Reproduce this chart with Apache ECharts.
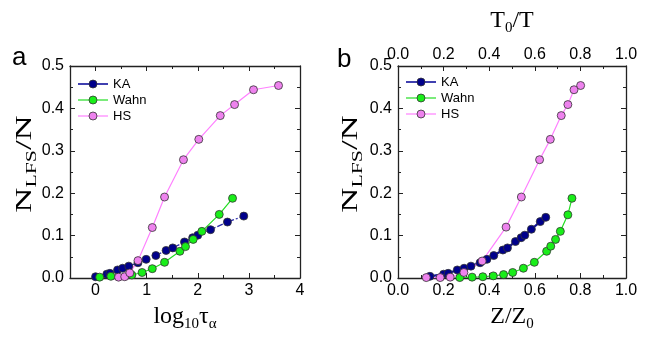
<!DOCTYPE html>
<html><head><meta charset="utf-8">
<script src="https://cdn.jsdelivr.net/npm/echarts@6/dist/echarts.min.js"></script>
<style>html,body{margin:0;padding:0;background:#fff}#c{width:653px;height:338px}</style>
</head><body><div id="c"></div>
<script>
// ---- data (panel a: log10 tau_alpha) ----
const kaTauX = [0.00,0.22,0.28,0.43,0.53,0.65,0.83,0.99,1.18,1.38,1.51,1.74,1.90,2.00,2.25,2.58,2.90];
const kaTauY = [0.003,0.009,0.011,0.019,0.023,0.028,0.036,0.044,0.053,0.065,0.071,0.085,0.095,0.101,0.114,0.132,0.146];
const wahnTauX = [0.08,0.30,0.71,0.91,1.11,1.35,1.65,1.76,1.91,2.08,2.42,2.68];
const wahnTauY = [0.002,0.004,0.007,0.013,0.022,0.037,0.063,0.074,0.091,0.110,0.150,0.188];
const hsTauX = [0.45,0.57,0.67,0.83,1.11,1.35,1.72,2.02,2.44,2.72,3.09,3.58];
const hsTauY = [0.002,0.003,0.012,0.041,0.119,0.191,0.279,0.327,0.383,0.409,0.444,0.454];
// ---- data (panel b: Z/Z0) ----
const kaZX = [0.14,0.20,0.22,0.26,0.29,0.32,0.36,0.39,0.42,0.46,0.48,0.515,0.54,0.556,0.585,0.624,0.648];
const kaZY = [0.004,0.009,0.011,0.019,0.023,0.028,0.036,0.044,0.053,0.066,0.071,0.086,0.095,0.101,0.115,0.133,0.143];
const wahnZX = [0.271,0.325,0.372,0.418,0.463,0.503,0.550,0.598,0.652,0.670,0.691,0.712,0.745,0.763];
const wahnZY = [0.001,0.002,0.003,0.005,0.008,0.013,0.023,0.037,0.063,0.075,0.091,0.110,0.149,0.188];
const hsZX = [0.124,0.185,0.229,0.289,0.369,0.474,0.541,0.621,0.668,0.716,0.745,0.772,0.801];
const hsZY = [0.001,0.001,0.002,0.013,0.040,0.120,0.191,0.279,0.327,0.383,0.409,0.444,0.454];
// ---- ticks ----
const tauTicks = [0,1,2,3,4];
const tauMinorTicks = [0.5,1.5,2.5,3.5];
const seriesNames = ['KA','Wahn','HS'];

const zip = (xs, ys) => xs.map((x, i) => [x, ys[i]]);
const AX = '#222';
const serif = 'Liberation Serif';
const sans = 'Liberation Sans';
const tickFont = {fontFamily: sans, fontSize: 16, color: '#000'};
const richName = {
  m: {fontFamily: serif, fontSize: 24, color: '#000', lineHeight: 30, verticalAlign: 'middle'},
  s: {fontFamily: serif, fontSize: 15, color: '#000', lineHeight: 10, verticalAlign: 'bottom'}
};
const baseLine = {show: true, onZero: false, lineStyle: {color: AX, width: 1.3}};
const noLine = {show: false, onZero: false};

const xAxes = [
  {gridIndex: 0, type: 'value', min: -0.5, max: 4, position: 'bottom',
   axisLine: baseLine, splitLine: {show: false},
   axisTick: {show: true, inside: true, length: 5, customValues: tauTicks, lineStyle: {color: AX}},
   axisLabel: {customValues: tauTicks, margin: 5, ...tickFont},
   name: '{m|log}{s|10}{m|τ}{s|α}', nameLocation: 'middle', nameGap: 24,
   nameTextStyle: {rich: richName}},
  {gridIndex: 0, type: 'value', min: -0.5, max: 4, position: 'bottom', offset: 0,
   axisLine: noLine, splitLine: {show: false},
   axisTick: {show: true, inside: true, length: 3, customValues: tauMinorTicks, lineStyle: {color: AX}},
   axisLabel: {show: false}},
  {gridIndex: 0, type: 'value', min: -0.5, max: 4, position: 'top',
   axisLine: baseLine, splitLine: {show: false},
   axisTick: {show: true, inside: true, length: 5, customValues: tauTicks, lineStyle: {color: AX}},
   axisLabel: {show: false}},
  {gridIndex: 0, type: 'value', min: -0.5, max: 4, position: 'top', offset: 0,
   axisLine: noLine, splitLine: {show: false},
   axisTick: {show: true, inside: true, length: 3, customValues: tauMinorTicks, lineStyle: {color: AX}},
   axisLabel: {show: false}},
  {gridIndex: 1, type: 'value', min: 0, max: 1, interval: 0.2, position: 'bottom',
   axisLine: baseLine, splitLine: {show: false},
   axisTick: {show: true, inside: true, length: 5, lineStyle: {color: AX}},
   minorTick: {show: true, splitNumber: 2, length: 3, lineStyle: {color: AX}},
   axisLabel: {margin: 5, formatter: v => v.toFixed(1), ...tickFont},
   name: '{m|Z/Z}{s|0}', nameLocation: 'middle', nameGap: 24,
   nameTextStyle: {rich: richName}},
  {gridIndex: 1, type: 'value', min: 0, max: 1, interval: 0.2, position: 'top',
   axisLine: baseLine, splitLine: {show: false},
   axisTick: {show: true, inside: true, length: 5, lineStyle: {color: AX}},
   minorTick: {show: true, splitNumber: 2, length: 3, lineStyle: {color: AX}},
   axisLabel: {margin: 3, formatter: v => v.toFixed(1), ...tickFont},
   name: '{m|T}{s|0}{m|/T}', nameLocation: 'middle', nameGap: 30,
   nameTextStyle: {rich: richName}}
];

function yAx(grid, pos, labels) {
  return {gridIndex: grid, type: 'value', min: 0, max: 0.5, interval: 0.1, position: pos,
    axisLine: baseLine, splitLine: {show: false},
    axisTick: {show: true, inside: true, length: 5, lineStyle: {color: AX}},
    minorTick: {show: true, splitNumber: 2, length: 3, lineStyle: {color: AX}},
    axisLabel: labels ? {margin: 6, formatter: v => v.toFixed(1), ...tickFont} : {show: false}};
}
const yAxes = [yAx(0, 'left', true), yAx(0, 'right', false), yAx(1, 'left', true), yAx(1, 'right', false)];

const mk = (name, data, xi, yi, fill, line, width, type) => ({
  name, type: 'line', data, xAxisIndex: xi, yAxisIndex: yi,
  symbol: 'circle', symbolSize: 8,
  itemStyle: {color: fill, borderColor: '#333', borderWidth: 0.8},
  lineStyle: {color: line, width, type},
  emphasis: {disabled: true}
});
const KA_FILL = '#00008b', WAHN_FILL = '#19ee19', HS_FILL = '#ee82ee';
const series = [
  mk(seriesNames[0], zip(kaTauX, kaTauY), 0, 0, KA_FILL, '#2a2aa8', 1.3, [6, 2, 2, 2]),
  mk(seriesNames[1], zip(wahnTauX, wahnTauY), 0, 0, WAHN_FILL, '#22dd22', 1.2, 'solid'),
  mk(seriesNames[2], zip(hsTauX, hsTauY), 0, 0, HS_FILL, '#ff80ff', 1.2, 'solid'),
  mk(seriesNames[0], zip(kaZX, kaZY), 4, 2, KA_FILL, '#10109a', 2.2, 'solid'),
  mk(seriesNames[1], zip(wahnZX, wahnZY), 4, 2, WAHN_FILL, '#22dd22', 1.2, 'solid'),
  mk(seriesNames[2], zip(hsZX, hsZY), 4, 2, HS_FILL, '#ff80ff', 1.2, 'solid')
];

const legendData = [
  {name: 'KA', itemStyle: {color: KA_FILL, borderColor: '#333', borderWidth: 0.8}, lineStyle: {color: '#4040b0', width: 2, type: 'solid'}},
  {name: 'Wahn', itemStyle: {color: WAHN_FILL, borderColor: '#333', borderWidth: 0.8}, lineStyle: {color: '#22dd22', width: 1.2, type: 'solid'}},
  {name: 'HS', itemStyle: {color: HS_FILL, borderColor: '#333', borderWidth: 0.8}, lineStyle: {color: '#ff80ff', width: 1.2, type: 'solid'}}
];
const mkLegend = (left, top) => ({
  orient: 'vertical', left, top, itemWidth: 30, itemHeight: 10, itemGap: 2, selectedMode: false,
  data: legendData, textStyle: {fontFamily: sans, fontSize: 13, color: '#000', lineHeight: 14}
});

// y-axis titles (stretched along the text, as in the reference)
const yTitle = (x, y) => ({
  type: 'text', x, y, rotation: Math.PI / 2, scaleX: 1.45, scaleY: 1,
  style: {text: '{m|N}{s|LFS}{m|/N}', rich: richName, align: 'center', verticalAlign: 'middle'}
});

const chart = echarts.init(document.getElementById('c'), null, {renderer: 'canvas'});
chart.setOption({
  animation: false,
  backgroundColor: '#fff',
  grid: [
    {left: 70, top: 66, width: 230, height: 212},
    {left: 398, top: 66, width: 228, height: 212}
  ],
  xAxis: xAxes,
  yAxis: yAxes,
  legend: [mkLegend(72, 72), mkLegend(400, 70)],
  series,
  graphic: [
    {type: 'text', left: 12, top: 45, style: {text: 'a', font: '26px "Liberation Sans"', fill: '#000'}},
    {type: 'text', left: 337, top: 47, style: {text: 'b', font: '26px "Liberation Sans"', fill: '#000'}},
    yTitle(25, 164),
    yTitle(351, 164)
  ]
});
</script></body></html>
